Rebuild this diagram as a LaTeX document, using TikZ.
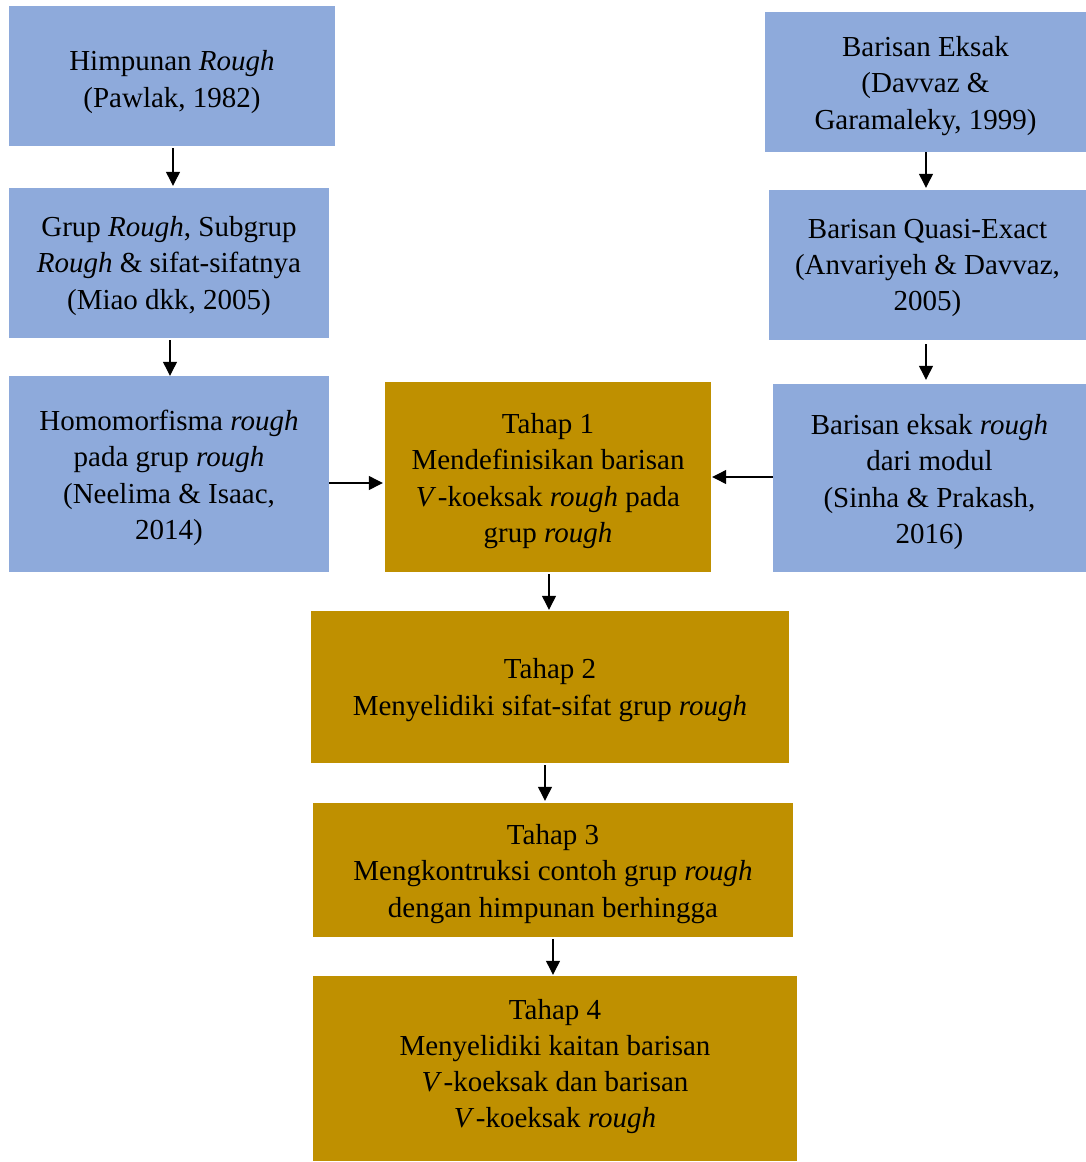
\documentclass[tikz,border=0pt]{standalone}
\usepackage{fontspec}
\setmainfont{Liberation Serif}
\usetikzlibrary{arrows.meta}
\definecolor{boxblue}{HTML}{8EAADB}
\definecolor{boxgold}{HTML}{BF9000}
\newcommand{\Vk}{\textit{V}\kern1.5pt-koeksak}
\begin{document}
\begin{tikzpicture}[x=1pt,y=-1pt,
  tx/.style={font=\fontsize{29}{36.3}\selectfont, align=center, inner sep=0pt, text=black},
  bluebox/.style={fill=boxblue, draw=none, inner sep=0pt},
  goldbox/.style={fill=boxgold, draw=none, inner sep=0pt},
  arr/.style={line width=1.2pt, -{Triangle[length=14pt,width=14pt]}}]
\useasboundingbox (0,0) rectangle (1086,1162);
% left column
\node[bluebox, minimum width=326pt, minimum height=140pt] (B1) at (172,76) {};
\node[tx] (B1t) at ([yshift=-6pt]B1.center) {Himpunan \textit{Rough}\\(Pawlak, 1982)};
\node[bluebox, minimum width=320pt, minimum height=150pt] (B2) at (169,263) {};
\node[tx] (B2t) at ([yshift=-3pt]B2.center) {Grup \textit{Rough}, Subgrup\\\textit{Rough} \& sifat-sifatnya\\(Miao dkk, 2005)};
\node[bluebox, minimum width=320pt, minimum height=196pt] (B3) at (169,474) {};
\node[tx] (B3t) at ([yshift=-4pt]B3.center) {Homomorfisma \textit{rough}\\pada grup \textit{rough}\\(Neelima \& Isaac,\\2014)};
% right column
\node[bluebox, minimum width=321pt, minimum height=140pt] (R1) at (925.5,82) {};
\node[tx] (R1t) at ([yshift=-4pt]R1.center) {Barisan Eksak\\(Davvaz \&\\Garamaleky, 1999)};
\node[bluebox, minimum width=317pt, minimum height=150pt] (R2) at (927.5,265) {};
\node[tx] (R2t) at ([yshift=-3pt]R2.center) {Barisan Quasi-Exact\\(Anvariyeh \& Davvaz,\\2005)};
\node[bluebox, minimum width=313pt, minimum height=188pt] (R3) at (929.5,478) {};
\node[tx] (R3t) at ([yshift=-4pt]R3.center) {Barisan eksak \textit{rough}\\dari modul\\(Sinha \& Prakash,\\2016)};
% stages
\node[goldbox, minimum width=326pt, minimum height=190pt] (T1) at (548,477) {};
\node[tx] (T1t) at ([yshift=-4pt]T1.center) {Tahap 1\\Mendefinisikan barisan\\\Vk{} \textit{rough} pada\\grup \textit{rough}};
\node[goldbox, minimum width=478pt, minimum height=152pt] (T2) at (550,687) {};
\node[tx] (T2t) at ([yshift=-3pt]T2.center) {Tahap 2\\Menyelidiki sifat-sifat grup \textit{rough}};
\node[goldbox, minimum width=480pt, minimum height=134pt] (T3) at (553,870) {};
\node[tx] (T3t) at ([yshift=-4pt]T3.center) {Tahap 3\\Mengkontruksi contoh grup \textit{rough}\\dengan himpunan berhingga};
\node[goldbox, minimum width=484pt, minimum height=185pt] (T4) at (555,1068.5) {};
\node[tx] (T4t) at ([yshift=2pt]T4.center) {Tahap 4\\Menyelidiki kaitan barisan\\\Vk{} dan barisan\\\Vk{} \textit{rough}};
% connectors
\draw[arr] ([yshift=-2pt]B1.south -| 173,0) -- ([yshift=2pt]B2.north -| 173,0);
\draw[arr] ([yshift=-2pt]B2.south -| 170,0) -- (B3.north -| 170,0);
\draw[arr] (R1.south -| 926,0) -- ([yshift=2pt]R2.north -| 926,0);
\draw[arr] ([yshift=-4pt]R2.south -| 926,0) -- ([yshift=4pt]R3.north -| 926,0);
\draw[arr] (B3.east |- 0,483) -- ([xshift=-2pt]T1.west |- 0,483);
\draw[arr] (R3.west |- 0,477) -- ([xshift=1pt]T1.east |- 0,477);
\draw[arr] ([yshift=-2pt]T1.south -| 549,0) -- ([yshift=1pt]T2.north -| 549,0);
\draw[arr] ([yshift=-2pt]T2.south -| 545,0) -- ([yshift=2pt]T3.north -| 545,0);
\draw[arr] ([yshift=-2pt]T3.south -| 553,0) -- ([yshift=1pt]T4.north -| 553,0);
\end{tikzpicture}
\end{document}
